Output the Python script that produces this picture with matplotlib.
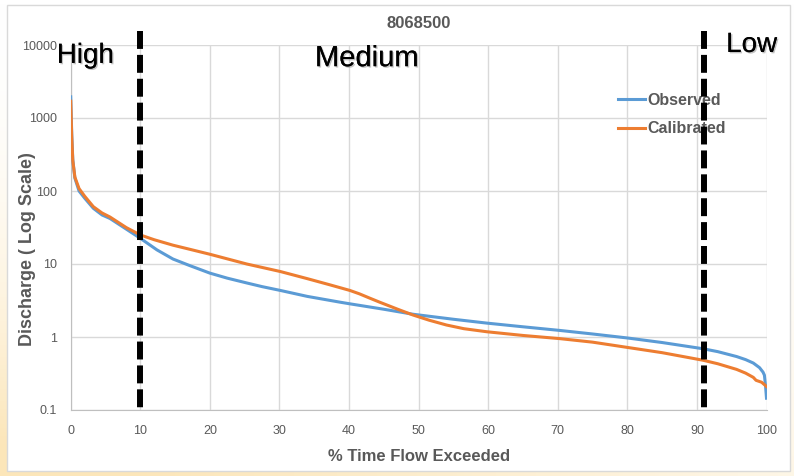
import numpy as np
import matplotlib.pyplot as plt
import matplotlib.patheffects as pe
from matplotlib.patches import Rectangle

# flow duration curve data
obs_x = [0, 0.15, 0.3, 0.6, 1.2, 2, 3.25, 4.5, 5.65, 8, 10, 12.4, 14.7, 17, 20,
         22.5, 25.3, 27.5, 30.1, 34, 38.7, 40.1, 45, 49.2, 55, 59.8, 65, 70.3, 75,
         80, 85, 90.9, 93, 95.7, 97, 98.1, 99, 99.5, 99.7, 99.85, 100]
obs_y = [1950, 600, 270, 150, 100, 80, 58, 47, 42, 30, 22.5, 15.6, 11.7, 9.6, 7.5,
         6.4, 5.5, 4.9, 4.35, 3.6, 3.0, 2.85, 2.4, 2.05, 1.75, 1.55, 1.38, 1.23, 1.1,
         0.97, 0.84, 0.69, 0.63, 0.54, 0.49, 0.44, 0.38, 0.33, 0.3, 0.22, 0.145]

cal_x = [0, 0.15, 0.3, 0.6, 1.2, 2, 3.25, 4.5, 5.65, 8, 10, 12, 14.7, 17, 20,
         25.3, 30.1, 34, 37.2, 38.5, 40.1, 41.5, 43, 44.4, 47, 49.2, 51.5, 54, 56.5,
         59.8, 65, 70.3, 75, 80, 85, 90.9, 93, 95.7, 97, 98.1, 98.5, 99.3, 100]
cal_y = [1700, 550, 260, 155, 108, 85, 61, 50, 44, 31.5, 25, 21.5, 18.1, 16, 13.6,
         10, 7.9, 6.3, 5.2, 4.8, 4.35, 3.9, 3.4, 3.0, 2.4, 2.0, 1.7, 1.46, 1.3,
         1.18, 1.05, 0.95, 0.85, 0.72, 0.61, 0.48, 0.43, 0.36, 0.32, 0.28, 0.255, 0.24, 0.21]

boundaries = [10, 91]
zones = ["High", "Medium", "Low"]
x_ticks = list(range(0, 101, 10))
y_ticks = [0.1, 1, 10, 100, 1000, 10000]
y_labels = ["0.1", "1", "10", "100", "1000", "10000"]

plt.rcParams['font.family'] = ['Liberation Sans', 'DejaVu Sans']
gray = '#595959'

fig = plt.figure(figsize=(7.94, 4.76), dpi=100)

# slide background with a soft yellow gradient
bg = fig.add_axes([0, 0, 1, 1])
H, W = 120, 200
yy, xx = np.mgrid[0:H, 0:W]
t = np.clip((yy / H) ** 2 * (1.15 - 0.8 * xx / W), 0, 1)
c0 = np.array([1.0, 1.0, 1.0])
c1 = np.array([252, 230, 185]) / 255
img = c0 + (c1 - c0) * t[..., None]
bg.imshow(img, aspect='auto', extent=[0, 1, 0, 1], origin='upper')
bg.add_patch(Rectangle((7 / 794, 1 - 471 / 476), 783 / 794, 466 / 476,
                       facecolor='white', edgecolor='#d9d9d9', lw=1))
bg.set_xlim(0, 1)
bg.set_ylim(0, 1)
bg.axis('off')

ax = fig.add_axes([70.7 / 794, 1 - 410 / 476, 695.8 / 794, 365 / 476])
ax.set_facecolor('none')
ax.set_yscale('log')
ax.set_xlim(0, 100)
ax.set_ylim(0.1, 10000)

ax.plot(obs_x, obs_y, color='#5B9BD5', lw=2.2, label='Observed', zorder=3)
ax.plot(cal_x, cal_y, color='#ED7D31', lw=2.2, label='Calibrated', zorder=3)

for b in boundaries:
    ax.plot([b, b], [15500, 0.1], color='black', lw=4.3, dashes=(3, 1),
            solid_capstyle='butt', dash_capstyle='butt', clip_on=False, zorder=6)

ax.set_xticks(x_ticks)
ax.set_yticks(y_ticks)
ax.set_yticklabels(y_labels)
ax.minorticks_off()
ax.tick_params(length=0, labelsize=9, colors=gray)
ax.tick_params(axis='x', pad=11)
ax.tick_params(axis='y', pad=10)
ax.grid(True, color='#d9d9d9', lw=1)
for s in ['top', 'right']:
    ax.spines[s].set_visible(False)
for s in ['left', 'bottom']:
    ax.spines[s].set_color('#bfbfbf')

ax.set_title('8068500', fontsize=12, fontweight='bold', color=gray, pad=12)
ax.set_xlabel('% Time Flow Exceeded', fontsize=12, fontweight='bold', color=gray)
ax.set_ylabel('Discharge ( Log Scale)', fontsize=13, fontweight='bold', color=gray)
ax.xaxis.set_label_coords(0.5, -0.107)
ax.yaxis.set_label_coords(-0.05, 0.44)

shadow = [pe.withSimplePatchShadow(offset=(1, -1), shadow_rgbFace='#888888', alpha=0.5),
          pe.Normal()]
ax.text(-0.02, 0.951, zones[0], transform=ax.transAxes, fontsize=20,
        ha='left', va='baseline', path_effects=shadow)
ax.text(0.351, 0.942, zones[1], transform=ax.transAxes, fontsize=21,
        ha='left', va='baseline', path_effects=shadow)
ax.text(0.942, 0.981, zones[2], transform=ax.transAxes, fontsize=20,
        ha='left', va='baseline', path_effects=shadow)

leg = ax.legend(loc='upper left', bbox_to_anchor=(0.787, 0.869), frameon=False,
                fontsize=11.5, handlelength=1.7, handletextpad=0.15,
                labelspacing=0.85, borderpad=0, borderaxespad=0)
for txt in leg.get_texts():
    txt.set_color(gray)
    txt.set_fontweight('bold')

fig.savefig('out.png', dpi=100)
